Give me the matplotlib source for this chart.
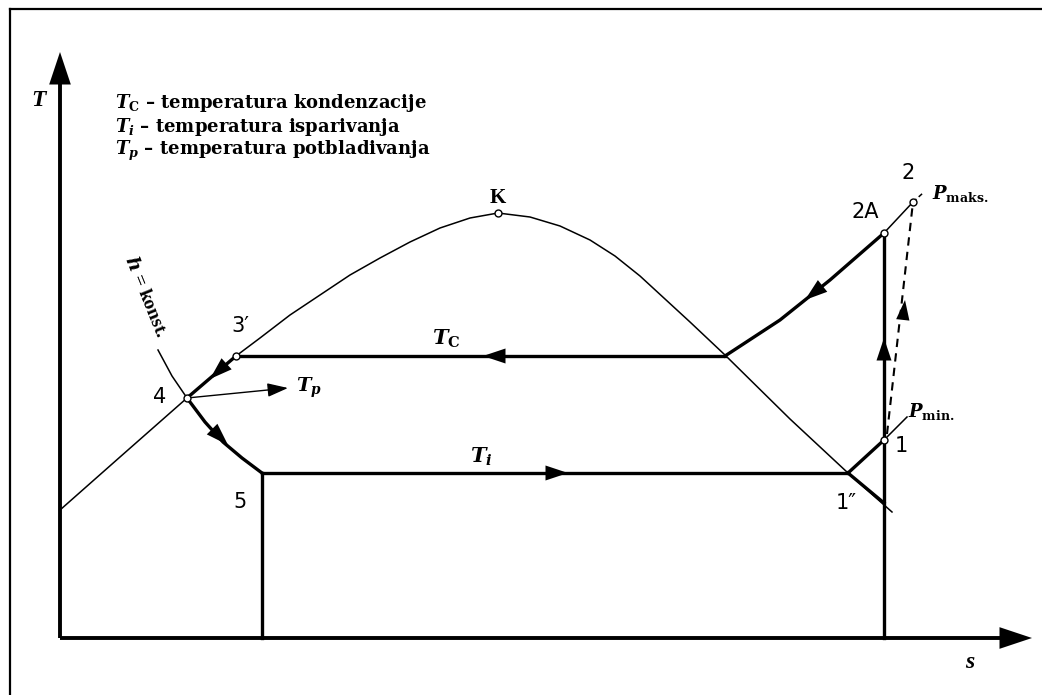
import matplotlib
matplotlib.use("Agg")
from matplotlib import pyplot as plt

plt.rcParams["mathtext.fontset"] = "custom"
plt.rcParams["mathtext.it"] = "DejaVu Serif:bold:italic"
plt.rcParams["mathtext.rm"] = "DejaVu Serif:bold"
plt.rcParams["mathtext.bf"] = "DejaVu Serif:bold"

# saturation dome (s, T), left branch then right branch
dome_s = [0, 60, 127, 176, 200, 230, 260, 290, 320, 350, 380, 410, 438,
          470, 500, 530, 555, 580, 605, 630, 665, 730, 788, 832]
dome_T = [128, 181, 240, 282, 300, 323, 343, 363, 380, 396, 410, 420, 425,
          421, 412, 398, 382, 362, 339, 316, 283, 219, 165, 126]

# state points
pts = {
    "K": (438, 425),
    "3'": (176, 282),
    "4": (127, 240),
    "5": (202, 165),
    "1''": (788, 165),
    "1": (824, 198),
    "2A": (824, 405),
    "2": (853, 436),
}
T_c = 282
T_i = 165
s_sat_c = 665  # Tc line meets dome

# superheated isobar from dome to 2A
sup_s = [665, 720, 770, 824]
sup_T = [282, 318, 358, 405]

# h = konst throttling line
h_s = [98, 112, 127, 145, 163, 182, 198, 202]
h_T = [288, 262, 240, 216, 196, 180, 168, 165]

legend_lines = [
    r"$T_\mathrm{C}$ – temperatura kondenzacije",
    r"$T_i$ – temperatura isparivanja",
    r"$T_p$ – temperatura potbladivanja",
]

THICK = 2.4
THIN = 1.1

fig = plt.figure(figsize=(10.42, 6.95), dpi=100)
ax = fig.add_axes([0, 0, 1, 1])
ax.set_xlim(-60, 982)
ax.set_ylim(-57, 638)
ax.axis("off")


def arrow(tail, tip, lw=0, scale=16, ls="-"):
    ax.annotate("", xy=tip, xytext=tail,
                arrowprops=dict(arrowstyle="-|>,head_length=0.9,head_width=0.3",
                                color="k", lw=lw, shrinkA=0, shrinkB=0,
                                mutation_scale=scale, linestyle=ls))


# frame
ax.plot([-50, -50], [-57, 629], color="k", lw=1.6, clip_on=False)
ax.plot([-50, 982], [629, 629], color="k", lw=1.6, clip_on=False)

# axes with arrows
ax.plot([0, 0], [0, 570], color="k", lw=2.8, solid_capstyle="butt")
ax.plot([0, 950], [0, 0], color="k", lw=2.8, solid_capstyle="butt")
arrow((0, 555), (0, 586), scale=26)
arrow((945, 0), (972, 0), scale=26)
ax.text(-22, 538, "T", fontsize=17, family="Liberation Serif", weight="bold",
        style="italic", ha="center", va="center")
ax.text(910, -25, "s", fontsize=17, family="Liberation Serif", weight="bold",
        style="italic", ha="center", va="center")

# dome
ax.plot(dome_s, dome_T, color="k", lw=THIN)

# cycle
ax.plot([pts["3'"][0], s_sat_c], [T_c, T_c], color="k", lw=THICK)
ax.plot(sup_s, sup_T, color="k", lw=THICK)
ax.plot([pts["2A"][0], pts["2"][0]], [pts["2A"][1], pts["2"][1]], color="k", lw=THIN)
ax.plot([pts["2"][0], pts["2"][0] + 10], [pts["2"][1], pts["2"][1] + 9],
        color="k", lw=THIN, ls=(0, (3, 2)))
ax.plot([824, 824], [0, 405], color="k", lw=THICK)
ax.plot([pts["1"][0] + 3, pts["2"][0]], [pts["1"][1] + 6, pts["2"][1]],
        color="k", lw=1.5, ls=(0, (4, 3)))
ax.plot([pts["1''"][0], pts["1"][0]], [T_i, pts["1"][1]], color="k", lw=THICK)
ax.plot([pts["1"][0], pts["1"][0] + 23], [pts["1"][1], pts["1"][1] + 23],
        color="k", lw=THIN)
ax.plot([pts["1''"][0], 824], [T_i, 135], color="k", lw=THICK)
ax.plot([pts["5"][0], pts["1''"][0]], [T_i, T_i], color="k", lw=THICK)
ax.plot([pts["5"][0], pts["5"][0]], [0, T_i], color="k", lw=THICK)
ax.plot([pts["3'"][0], pts["4"][0]], [pts["3'"][1], pts["4"][1]], color="k", lw=THICK)
ax.plot(h_s[:3], h_T[:3], color="k", lw=THIN)
ax.plot(h_s[2:], h_T[2:], color="k", lw=THICK)

# flow arrows
arrow((440, T_c), (423, T_c), scale=18)
arrow((488, T_i), (508, T_i), scale=18)
arrow((760, 350), (745, 338), scale=18)
arrow((824, 284), (824, 300), scale=18)
arrow((843, 320), (845, 338), scale=16)
arrow((162, 270), (150, 259), scale=18)
arrow((156, 205), (168, 193), scale=18)
arrow(pts["4"], (228, 250), lw=1.0, scale=14)

# state markers
for key in ["K", "3'", "4", "2A", "2", "1"]:
    ax.plot(*pts[key], marker="o", ms=5, mfc="white", mec="k", mew=1.0, zorder=5)

# point labels
lab = dict(fontsize=15, family="DejaVu Sans", ha="center", va="center")
ax.text(180, 312, "3\u2032", **lab)
ax.text(100, 241, "4", **lab)
ax.text(180, 136, "5", **lab)
ax.text(786, 135, "1\u2033", **lab)
ax.text(841, 192, "1", **lab)
ax.text(805, 426, "2A", **lab)
ax.text(848, 465, "2", **lab)
ax.text(438, 440, "K", fontsize=15, family="Liberation Serif", weight="bold",
        ha="center", va="center")

ser = dict(family="DejaVu Serif", weight="bold", va="center")
ax.text(386, 299, r"$T_\mathrm{C}$", fontsize=15, ha="center", **ser)
ax.text(421, 181, r"$T_i$", fontsize=15, ha="center", **ser)
ax.text(236, 250, r"$T_p$", fontsize=14, ha="left", **ser)
ax.text(872, 444, r"$P_\mathrm{maks.}$", fontsize=13, ha="left", **ser)
ax.text(848, 226, r"$P_\mathrm{min.}$", fontsize=13, ha="left", **ser)
ax.text(86, 341, r"$h$ = konst.", fontsize=14, family="Liberation Serif",
        weight="bold", rotation=-68, rotation_mode="anchor",
        ha="center", va="center")

for i, line in enumerate(legend_lines):
    ax.text(55, 535 - 24 * i, line, fontsize=13, ha="left", **ser)

fig.savefig("out.png", dpi=100)
